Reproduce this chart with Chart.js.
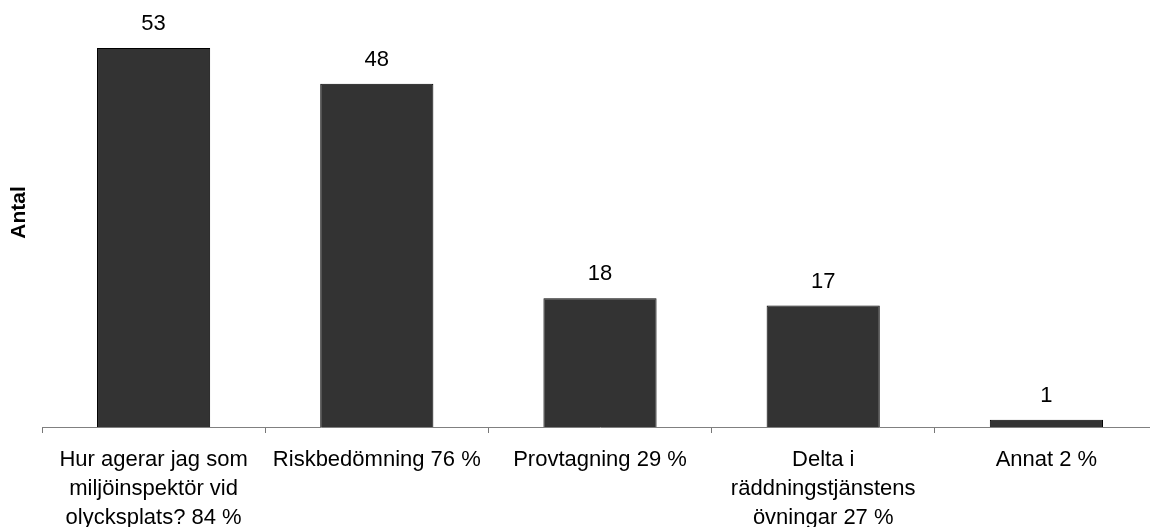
<!DOCTYPE html>
<html lang="sv">
<head>
<meta charset="utf-8">
<title>Antal</title>
<script src="https://cdn.jsdelivr.net/npm/chart.js@4.4.0/dist/chart.umd.min.js"></script>
<style>
  html, body { margin: 0; padding: 0; background: #ffffff; overflow: hidden; }
  body { width: 1150px; height: 527px; position: relative; }
  #chart { position: absolute; left: 0; top: -2px; }
</style>
</head>
<body>
<canvas id="chart" width="1160" height="529"></canvas>
<script>
// Categories (wrapped into lines as they are printed under the axis)
const categories = [
  ["Hur agerar jag som", "miljöinspektör vid", "olycksplats? 84 %"],
  "Riskbedömning 76 %",
  "Provtagning 29 %",
  ["Delta i", "räddningstjänstens", "övningar 27 %"],
  "Annat 2 %"
];
// Number of answers per category
const counts = [53, 48, 18, 17, 1];
const yTitle = "Antal";

const FONT = "'Liberation Sans', Arial, Helvetica, sans-serif";

// Prints each bar's value centred above it
const valueLabels = {
  id: 'valueLabels',
  afterDatasetsDraw(chart) {
    const ctx = chart.ctx;
    const meta = chart.getDatasetMeta(0);
    ctx.save();
    ctx.font = "22px " + FONT;
    ctx.fillStyle = "#000000";
    ctx.textAlign = "center";
    ctx.textBaseline = "middle";
    meta.data.forEach((bar, i) => {
      ctx.fillText(String(counts[i]), bar.x, bar.y - 24);
    });
    ctx.restore();
  }
};

new Chart(document.getElementById('chart'), {
  type: 'bar',
  data: {
    labels: categories,
    datasets: [{
      data: counts,
      backgroundColor: '#333333',
      borderColor: '#000000',
      borderWidth: 1,
      barPercentage: 0.507,
      categoryPercentage: 1.0
    }]
  },
  options: {
    responsive: false,
    animation: false,
    devicePixelRatio: 1,
    layout: { padding: { left: 0, right: 2, top: 0, bottom: 0 } },
    plugins: {
      legend: { display: false },
      tooltip: { enabled: false }
    },
    scales: {
      x: {
        offset: true,
        grid: {
          display: true,
          offset: true,
          drawOnChartArea: false,
          drawTicks: true,
          tickLength: 6,
          color: '#777777',
          lineWidth: 1
        },
        border: { display: true, color: '#808080', width: 1 },
        ticks: {
          autoSkip: false,
          maxRotation: 0,
          minRotation: 0,
          padding: 12,
          color: '#000000',
          font: { family: FONT, size: 22, lineHeight: 1.318 }
        },
        afterFit(scale) { scale.height = 100; }
      },
      y: {
        min: 0,
        max: 60,
        grid: { display: false, drawTicks: false },
        border: { display: false },
        ticks: { display: false, stepSize: 10 },
        title: {
          display: true,
          text: yTitle,
          color: '#000000',
          font: { family: FONT, size: 21, weight: 'bold', lineHeight: 1.2 },
          padding: { top: 7, bottom: 0 }
        },
        afterFit(scale) { scale.width = 42; }
      }
    }
  },
  plugins: [valueLabels]
});
</script>
</body>
</html>
